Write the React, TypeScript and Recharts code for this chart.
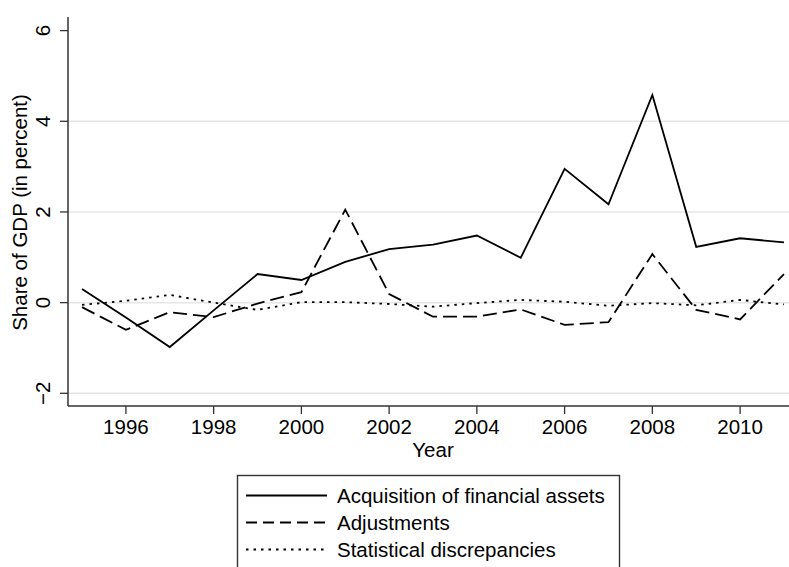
import React from "react";
import { LineChart, Line, XAxis, YAxis, CartesianGrid, Label } from "recharts";

const years = [1995, 1996, 1997, 1998, 1999, 2000, 2001, 2002, 2003, 2004, 2005, 2006, 2007, 2008, 2009, 2010, 2011];
const acquisition = [0.30, -0.33, -0.98, -0.17, 0.63, 0.50, 0.90, 1.18, 1.28, 1.48, 0.99, 2.95, 2.17, 4.58, 1.23, 1.42, 1.33];
const adjustments = [-0.10, -0.60, -0.21, -0.32, -0.02, 0.23, 2.05, 0.19, -0.31, -0.31, -0.15, -0.49, -0.43, 1.07, -0.16, -0.37, 0.63];
const discrepancies = [-0.05, 0.04, 0.17, 0.00, -0.16, 0.01, 0.01, -0.03, -0.09, -0.01, 0.06, 0.02, -0.07, -0.01, -0.06, 0.06, -0.04];

const xTicks = [1996, 1998, 2000, 2002, 2004, 2006, 2008, 2010];
const yTicks = [-2, 0, 2, 4, 6];
const gridValues = [-2, 0, 2, 4];
const seriesNames = ["Acquisition of financial assets", "Adjustments", "Statistical discrepancies"];

const data = years.map((year, i) => ({
  year,
  acquisition: acquisition[i],
  adjustments: adjustments[i],
  discrepancies: discrepancies[i],
}));

const FONT = "'Liberation Sans', Arial, Helvetica, sans-serif";
const FS = 20.5;

const XTick = (props: any) => {
  const { x, y, payload } = props;
  return (
    <text x={x} y={y} dy={18} textAnchor="middle" fontSize={FS} fontFamily={FONT} fill="#000">
      {payload.value}
    </text>
  );
};

const YTick = (props: any) => {
  const { x, y, payload } = props;
  const bx = x - 8;
  return (
    <text x={bx} y={y} transform={`rotate(-90, ${bx}, ${y})`} textAnchor="middle" fontSize={FS} fontFamily={FONT} fill="#000">
      {payload.value < 0 ? "\u2212" + Math.abs(payload.value) : payload.value}
    </text>
  );
};

const YLabel = (props: any) => {
  const vb = props.viewBox;
  const x = vb.x + 27;
  const y = vb.y + vb.height / 2 + 1;
  return (
    <text x={x} y={y} transform={`rotate(-90, ${x}, ${y})`} textAnchor="middle" fontSize={FS} fontFamily={FONT} fill="#000">
      Share of GDP (in percent)
    </text>
  );
};

const XLabel = (props: any) => {
  const vb = props.viewBox;
  return (
    <text x={vb.x + vb.width / 2} y={vb.y + 50.5} textAnchor="middle" fontSize={FS} fontFamily={FONT} fill="#000">
      Year
    </text>
  );
};

const legendStyles = [
  { dash: undefined as string | undefined },
  { dash: "11 6" },
  { dash: "2.5 5" },
];

export default function App() {
  return (
    <div style={{ position: "absolute", left: 0, top: 0, width: 789, height: 567, overflow: "hidden", background: "#fff" }}>
      <LineChart
        width={810}
        height={567}
        data={data}
        margin={{ top: 17, right: 12, bottom: 101, left: 0 }}
      >
        <CartesianGrid horizontal vertical={false} horizontalValues={gridValues} stroke="#e6e6e6" strokeWidth={1.5} />
        <XAxis
          dataKey="year"
          type="number"
          domain={[1994.68, 2011.32]}
          ticks={xTicks}
          allowDataOverflow
          height={60}
          tickSize={8}
          tickLine={{ stroke: "#333", strokeWidth: 1.3 }}
          axisLine={{ stroke: "#333", strokeWidth: 1.5 }}
          tick={<XTick />}
          interval={0}
        >
          <Label content={<XLabel />} />
        </XAxis>
        <YAxis
          type="number"
          domain={[-2.28, 6.3]}
          ticks={yTicks}
          allowDataOverflow
          width={68}
          tickSize={8}
          tickLine={{ stroke: "#333", strokeWidth: 1.3 }}
          axisLine={{ stroke: "#333", strokeWidth: 1.5 }}
          tick={<YTick />}
          interval={0}
        >
          <Label content={<YLabel />} />
        </YAxis>
        <Line type="linear" dataKey="acquisition" stroke="#000" strokeWidth={1.8} dot={false} isAnimationActive={false} />
        <Line type="linear" dataKey="adjustments" stroke="#000" strokeWidth={1.8} strokeDasharray="14 6" dot={false} isAnimationActive={false} />
        <Line type="linear" dataKey="discrepancies" stroke="#000" strokeWidth={1.8} strokeDasharray="2.5 5" dot={false} isAnimationActive={false} />
      </LineChart>
      <svg style={{ position: "absolute", left: 0, top: 0 }} width={789} height={567}>
        <rect x={237.5} y={475.5} width={382} height={120} fill="none" stroke="#333" strokeWidth={1.4} />
        {seriesNames.map((name, i) => {
          const ly = 495.5 + i * 27;
          return (
            <g key={name}>
              <line x1={246} y1={ly} x2={327} y2={ly} stroke="#000" strokeWidth={1.8} strokeDasharray={legendStyles[i].dash} />
              <text x={337} y={ly + 7} fontSize={FS} fontFamily={FONT} fill="#000">
                {name}
              </text>
            </g>
          );
        })}
      </svg>
    </div>
  );
}
